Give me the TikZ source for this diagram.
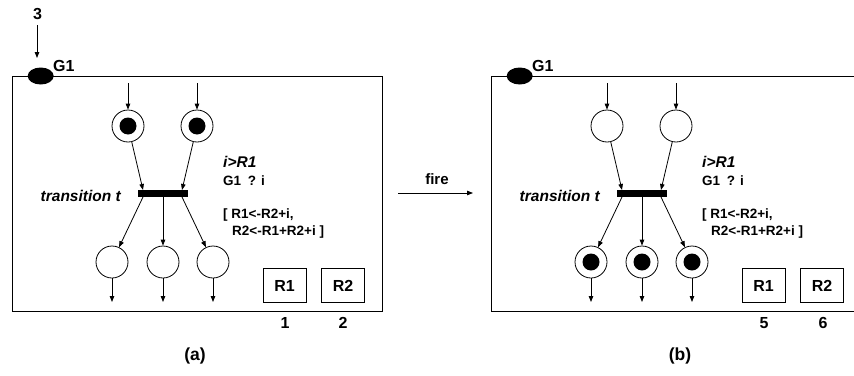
\documentclass[tikz,border=0pt]{standalone}
\usepackage{fontspec}
\setmainfont{Liberation Sans}
\usetikzlibrary{arrows.meta,shapes.geometric}
\tikzset{
  arr/.style={-{Triangle[length=6pt,width=4.5pt]}, line width=0.8pt},
  place/.style={circle, draw, line width=0.8pt, minimum size=32pt, inner sep=0pt},
  tok/.style={circle, fill=black, minimum size=17pt, inner sep=0pt},
  tbar/.style={fill=black, minimum width=50pt, minimum height=7pt, inner sep=0pt},
  reg/.style={draw, line width=0.8pt, minimum width=43pt, minimum height=34pt, inner sep=0pt,
    font=\bfseries\fontsize{16}{16}\selectfont},
  gate/.style={ellipse, fill=black, minimum width=26pt, minimum height=17pt, inner sep=0pt},
  big/.style={font=\bfseries\fontsize{16}{16}\selectfont, inner sep=0pt},
  captext/.style={font=\bfseries\fontsize{17.5}{17.5}\selectfont, inner sep=0pt},
  small/.style={font=\bfseries\fontsize{13.5}{13.5}\selectfont, inner sep=0pt},
  firel/.style={font=\bfseries\fontsize{15}{15}\selectfont, inner sep=0pt},
  ital/.style={font=\bfseries\itshape\fontsize{15.5}{15.5}\selectfont, inner sep=0pt},
  frame/.style={line width=0.8pt}
}
\newcommand\netbody[1]{%
  \node[gate] (#1g) at (40.7,76) {};
  \node[big, anchor=base west] (#1gl) at (53,71) {G1};
  \node[place] (#1t1) at (128,126) {};
  \node[place] (#1t2) at (197,126) {};
  \coordinate (#1i1) at (128,83);
  \coordinate (#1i2) at (197,83);
  \draw[arr] (#1i1) -- (#1t1);
  \draw[arr] (#1i2) -- (#1t2);
  \node[tbar] (#1bar) at (163,193.5) {};
  \coordinate (#1a1) at (143,190);
  \coordinate (#1a2) at (182,190);
  \draw[arr] (#1t1) -- (#1a1);
  \draw[arr] (#1t2) -- (#1a2);
  \node[place] (#1b1) at (112,262) {};
  \node[place] (#1b2) at (163,262) {};
  \node[place] (#1b3) at (213,262) {};
  \coordinate (#1o1) at (143,197);
  \coordinate (#1o2) at (163,197);
  \coordinate (#1o3) at (182,197);
  \draw[arr] (#1o1) -- (#1b1);
  \draw[arr] (#1o2) -- (#1b2);
  \draw[arr] (#1o3) -- (#1b3);
  \coordinate (#1e1) at (112,302);
  \coordinate (#1e2) at (163,302);
  \coordinate (#1e3) at (213,302);
  \draw[arr] (#1b1) -- (#1e1);
  \draw[arr] (#1b2) -- (#1e2);
  \draw[arr] (#1b3) -- (#1e3);
  \node[ital, anchor=base east] (#1tl) at (121,201) {transition t};
  \node[ital, anchor=base west] (#1gd) at (223,167) {i>R1};
  \node[small, anchor=base west] (#1rc) at (223,185) {G1\enspace? i};
  \node[small, anchor=base west] (#1as1) at (223,218) {[ R1<-R2+i,};
  \node[small, anchor=base west] (#1as2) at (232,235) {R2<-R1+R2+i ]};
  \node[reg] (#1r1) at (284.5,285.5) {R1};
  \node[reg] (#1r2) at (343,285.5) {R2};
}
\begin{document}
\begin{tikzpicture}[x=1pt,y=-1pt]
  \useasboundingbox (0,0) rectangle (854,375);
  % panel (a)
  \draw[frame] (12,76) rectangle (382,311);
  \netbody{a}
  \node[tok] (atk1) at (at1) {};
  \node[tok] (atk2) at (at2) {};
  \node[big] (three) at (37.5,14) {3};
  \coordinate (athree) at (37,58);
  \draw[arr] (37,25) -- (athree);
  \node[big] (av1) at (285,323) {1};
  \node[big] (av2) at (343,323) {2};
  \node[captext] (acap) at (195,356) {(a)};
  % fire arrow
  \coordinate (fa) at (398,193);
  \coordinate (fb) at (473,193);
  \draw[arr] (fa) -- (fb);
  \node[firel] (fire) at (437,179) {fire};
  % panel (b)
  \begin{scope}[xshift=479pt]
    \draw[frame] (380,76) -- (12,76) -- (12,311) -- (380,311);
    \netbody{b}
    \node[tok] (btk1) at (bb1) {};
    \node[tok] (btk2) at (bb2) {};
    \node[tok] (btk3) at (bb3) {};
    \node[big] (bv1) at (285,323) {5};
    \node[big] (bv2) at (344,323) {6};
    \node[captext] (bcap) at (201,356) {(b)};
  \end{scope}
\end{tikzpicture}
\end{document}
